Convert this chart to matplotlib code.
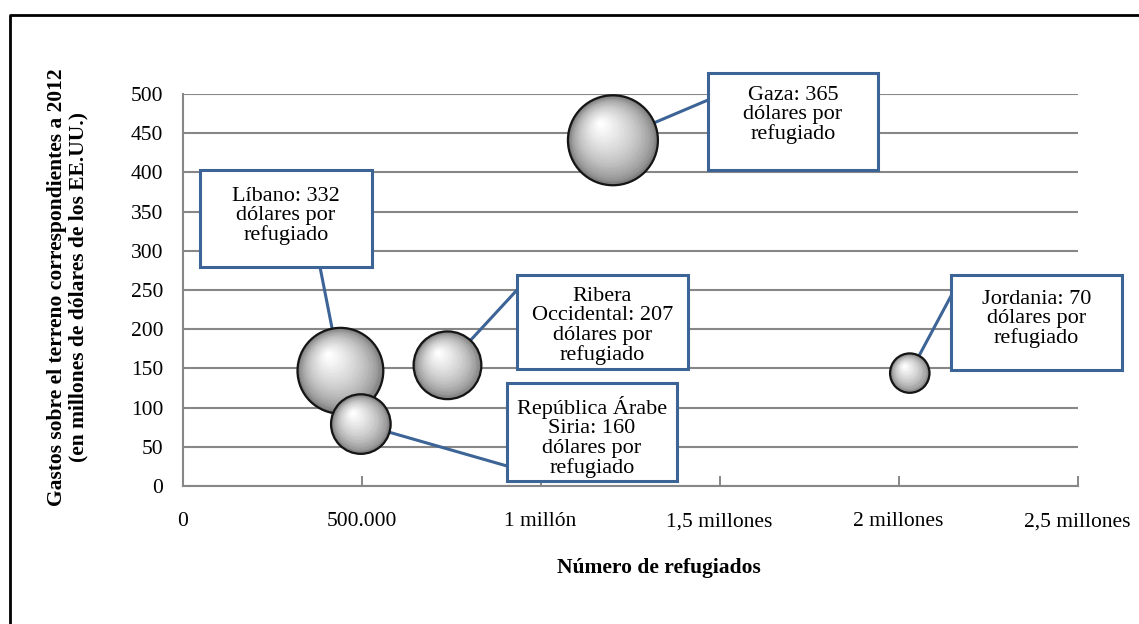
import numpy as np
import matplotlib
matplotlib.use("Agg")
import matplotlib.pyplot as plt
from matplotlib.patches import Rectangle
from matplotlib.lines import Line2D
from matplotlib.transforms import offset_copy

# data
regions = ["Líbano", "República Árabe Siria", "Ribera Occidental", "Gaza", "Jordania"]
refugees = [441000, 498000, 740000, 1202000, 2031000]
spending = [147, 79, 154, 441, 144]          # millions of USD
per_refugee = [332, 160, 207, 365, 70]       # USD per refugee -> bubble area
box_texts = [
    "Líbano: 332\ndólares por\nrefugiado",
    "República Árabe\nSiria: 160\ndólares por\nrefugiado",
    "Ribera\nOccidental: 207\ndólares por\nrefugiado",
    "Gaza: 365\ndólares por\nrefugiado",
    "Jordania: 70\ndólares por\nrefugiado",
]
xticks = [0, 500000, 1000000, 1500000, 2000000, 2500000]
xticklabels = ["0", "500.000", "1 millón", "1,5 millones", "2 millones", "2,5 millones"]
yticks = list(range(0, 501, 50))

W, H = 1139, 624
plt.rcParams["font.family"] = ["Liberation Serif", "DejaVu Serif"]
fig = plt.figure(figsize=(W / 100, H / 100), dpi=100)

def fx(px):
    return px / W

def fy(py):
    return 1 - py / H

ax = fig.add_axes([fx(182.5), fy(486), fx(1077.7) - fx(182.5), fy(94) - fy(486)])
ax.set_xlim(0, 2500000)
ax.set_ylim(0, 500)

grid_col = "#878787"
ax.set_yticks(yticks)
ax.set_xticks(xticks)
ax.set_xticklabels(xticklabels)
ax.tick_params(axis="y", length=0, pad=14, labelsize=15.5)
ax.tick_params(axis="x", direction="in", length=7, width=1.4, color=grid_col, pad=19, labelsize=15.5)
ax.grid(axis="y", color=grid_col, lw=1.5)
ax.set_axisbelow(True)
for s in ["top", "right"]:
    ax.spines[s].set_visible(False)
for s in ["left", "bottom"]:
    ax.spines[s].set_color(grid_col)
    ax.spines[s].set_linewidth(1.5)

# bubble size: area proportional to dollars per refugee
k = 11.5
box_col = "#3d6496"

# boxes: left, top, right, bottom (px) and text top (px)
boxes = [
    (200, 170, 372, 267, 187),
    (507, 383, 677, 481, 396),
    (517, 275, 688, 369, 287),
    (708, 73, 878, 170, 86),
    (951, 275, 1122, 370, 290),
]
leader_start = [(320, 267), (507, 466), (517, 290), (708, 100), (951, 296)]

# leader lines (under bubbles)
for i in range(len(regions)):
    r_pt = np.sqrt(per_refugee[i] * k) / 2
    sx, sy = leader_start[i]
    ax.annotate("", xy=(refugees[i], spending[i]), xytext=(fx(sx), fy(sy)),
                textcoords="figure fraction",
                arrowprops=dict(arrowstyle="-", color=box_col, lw=2.2,
                                shrinkA=0, shrinkB=r_pt - 1),
                zorder=3, annotation_clip=False)

# shaded spheres
for j in range(len(regions)):
    x, y, v = refugees[j], spending[j], per_refugee[j]
    r = np.sqrt(v * k) / 2
    z = 5 + j
    n = 40
    for m in range(n):
        t = m / (n - 1)
        f = 1 - 0.95 * t
        off = (1 - f) * r * 0.5
        g = 0.40 + 0.60 * t ** 0.5
        tr = offset_copy(ax.transData, fig=fig, x=-off * 0.6, y=off * 0.8, units="points")
        ax.scatter([x], [y], s=(2 * r * f) ** 2, color=(g, g, g), lw=0,
                   transform=tr, zorder=z)
    ax.scatter([x], [y], s=(2 * r) ** 2, facecolor="none", edgecolor="#151515",
               lw=1.6, zorder=z + 0.5)

# label boxes
for i in range(len(regions)):
    l, t, rr, b, tt = boxes[i]
    fig.patches.append(Rectangle((fx(l), fy(b)), fx(rr) - fx(l), fy(t) - fy(b),
                                 transform=fig.transFigure, facecolor="white",
                                 edgecolor=box_col, lw=2.2, zorder=20))
    fig.text(fx((l + rr) / 2), fy(tt), box_texts[i], ha="center", va="top",
             multialignment="center", fontsize=16, linespacing=1.02, zorder=21)

# axis titles
fig.text(fx(68), fy(287), "Gastos sobre el terreno correspondientes a 2012\n(en millones de dólares de los EE.UU.)",
         rotation=90, ha="center", va="center", multialignment="center",
         fontsize=15.5, fontweight="bold", linespacing=1.1)
fig.text(fx(659), fy(568), "Número de refugiados", ha="center", va="center",
         fontsize=15.5, fontweight="bold")

# outer frame (top and left edges visible)
fig.lines.append(Line2D([fx(10), fx(10), 1], [0, fy(15), fy(15)],
                        transform=fig.transFigure, color="black", lw=2))

fig.savefig("out.png", dpi=100)
